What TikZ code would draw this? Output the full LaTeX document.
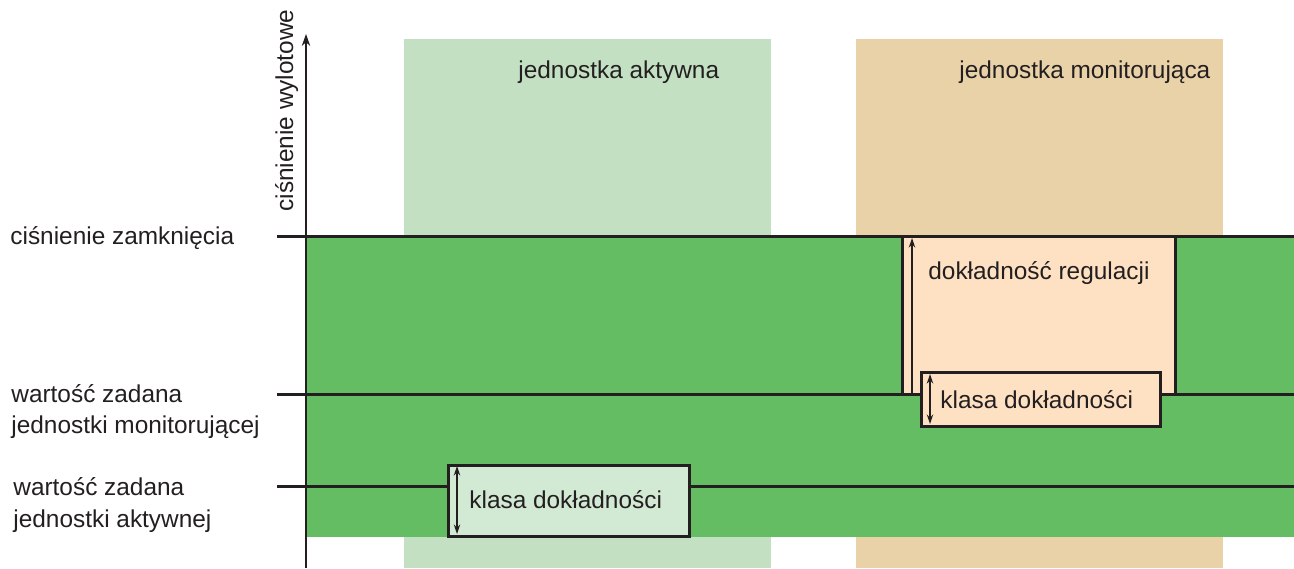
\documentclass[tikz,border=0pt]{standalone}
\usepackage{fontspec}
\setmainfont{Liberation Sans}
\usetikzlibrary{arrows.meta}
\definecolor{ink}{HTML}{231F20}
\definecolor{bandgreen}{HTML}{C3E1C2}
\definecolor{bandtan}{HTML}{EAD2A8}
\definecolor{fieldgreen}{HTML}{64BD62}
\definecolor{peach}{HTML}{FEE0C3}
\definecolor{palegreen}{HTML}{D2E9D4}
\begin{document}
\begin{tikzpicture}[x=0.5pt,y=-0.5pt,
  font=\fontsize{12.2}{14}\selectfont,
  lbl/.style={text=ink, inner sep=0pt, anchor=base west},
  level/.style={draw=ink, line width=1.5pt},
  axisline/.style={draw=ink, line width=1.2pt, -{Stealth[length=6pt,width=4.2pt]}},
  box/.style={draw=ink, line width=1.5pt, rectangle, inner sep=0pt, outer sep=0pt},
  dimsingle/.style={draw=ink, line width=0.75pt, -{Stealth[length=4.8pt,width=3.2pt]}},
  dimdouble/.style={draw=ink, line width=0.75pt, {Stealth[length=4.8pt,width=3.2pt]}-{Stealth[length=4.8pt,width=3.2pt]}}]
\useasboundingbox (0,0) rectangle (1294,568);
% background bands
\fill[bandgreen] (404,39) rectangle (771,568);
\fill[bandtan] (856,39) rectangle (1223,568);
\fill[fieldgreen] (306,236) rectangle (1294,537);
% level lines
\coordinate (c1l) at (277,236); \coordinate (c1r) at (1294,236);
\coordinate (c2l) at (277,394); \coordinate (c2r) at (1294,394);
\coordinate (c3l) at (277,486); \coordinate (c3r) at (1294,486);
\draw[level] (c1l) -- (c1r);
\draw[level] (c2l) -- (c2r);
\draw[level] (c3l) -- (c3r);
% axis
\coordinate (axb) at (306,568); \coordinate (axt) at (306,34);
\draw[axisline] (axb) -- (axt);
\node[lbl, rotate=90] (axlbl) at (293,212) {ciśnienie wylotowe};
% band titles
\node[lbl] (ta) at (518,78) {jednostka aktywna};
\node[lbl] (tm) at (959,78) {jednostka monitorująca};
% left labels
\node[lbl] (l1) at (10,244) {ciśnienie zamknięcia};
\node[lbl] (l2a) at (11,402) {wartość zadana};
\node[lbl] (l2b) at (11,433) {jednostki monitorującej};
\node[lbl] (l3a) at (13,495) {wartość zadana};
\node[lbl] (l3b) at (13,527) {jednostki aktywnej};
% regulation box
\node[box, fill=peach, minimum width=136.5pt, minimum height=79pt] (reg) at (1038.5,315) {};
\coordinate (rb) at (912,393); \coordinate (rt) at (912,238);
\draw[dimsingle] (rb) -- (rt);
\node[lbl] (regtxt) at (928,279) {dokładność regulacji};
% monitoring class box
\node[box, fill=peach, minimum width=119.5pt, minimum height=27pt] (km) at (1040.5,399) {};
\coordinate (kmt) at (930,374); \coordinate (kmb) at (930,424);
\draw[dimdouble] (kmt) -- (kmb);
\node[lbl] (kmtxt) at (940,408) {klasa dokładności};
% active class box
\node[box, fill=palegreen, minimum width=120.5pt, minimum height=35.5pt] (ka) at (568.5,500.5) {};
\coordinate (kat) at (457,466); \coordinate (kab) at (457,534);
\draw[dimdouble] (kat) -- (kab);
\node[lbl] (katxt) at (469,508) {klasa dokładności};
\end{tikzpicture}
\end{document}
